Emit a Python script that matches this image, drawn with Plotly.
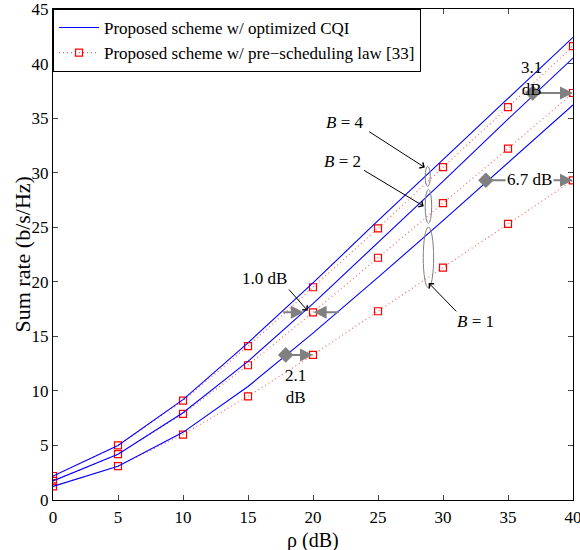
import plotly.graph_objects as go

rho = [0, 5, 10, 15, 20, 25, 30, 35, 40]

# Proposed scheme w/ optimized CQI (blue solid)
opt_B4 = [2.2, 5.0, 9.2, 14.4, 19.9, 25.6, 31.2, 36.8, 42.4]
opt_B2 = [1.75, 4.2, 8.0, 12.7, 18.0, 23.6, 29.2, 34.9, 40.5]
opt_B1 = [1.25, 3.1, 6.2, 10.4, 15.3, 20.4, 25.6, 30.9, 36.2]

# Proposed scheme w/ pre-scheduling law [33] (red dotted, squares)
pre_B4 = [2.2, 5.0, 9.1, 14.1, 19.5, 24.9, 30.5, 36.0, 41.6]
pre_B2 = [1.75, 4.2, 7.9, 12.35, 17.2, 22.2, 27.2, 32.2, 37.3]
pre_B1 = [1.25, 3.1, 6.0, 9.5, 13.3, 17.3, 21.3, 25.3, 29.3]

x_ticks = [0, 5, 10, 15, 20, 25, 30, 35, 40]
y_ticks = [0, 5, 10, 15, 20, 25, 30, 35, 40, 45]

# SNR gaps (dB) annotated at a given rho of the pre-scheduling curves
gap_labels = ["2.1", "6.7", "3.1"]
gap_values = [2.1, 6.7, 3.1]
gap_rho = [20, 40, 40]
gap_level = [pre_B1[4], pre_B1[8], pre_B2[8]]

FONT = "Liberation Serif, Times New Roman, serif"
GRAY = "#808080"

fig = go.Figure()

blue = dict(color="#0000ff", width=1.1)
red_line = dict(color="rgba(255,0,0,0.6)", width=1.2, dash="1px,3px")
red_marker = dict(symbol="square-open", size=7, color="#ff0000", line=dict(width=1.2, color="#ff0000"))

for i, (o, p) in enumerate([(opt_B4, pre_B4), (opt_B2, pre_B2), (opt_B1, pre_B1)]):
    fig.add_trace(go.Scatter(x=rho, y=p, mode="lines+markers", line=red_line, marker=red_marker,
                             name="Proposed scheme w/ pre\u2212scheduling law [33]",
                             showlegend=(i == 0), legendrank=2))
    fig.add_trace(go.Scatter(x=rho, y=o, mode="lines", line=blue,
                             name="Proposed scheme w/ optimized CQI",
                             showlegend=(i == 0), legendrank=1))

# diamonds at gap starts
dx = [r - g for r, g in zip(gap_rho, gap_values)]
fig.add_trace(go.Scatter(x=dx, y=gap_level, mode="markers", showlegend=False,
                         marker=dict(symbol="diamond", size=12, color=GRAY), hoverinfo="skip"))

ann = []
# gap arrows (diamond -> marker)
for s, r, lv in zip(dx, gap_rho, gap_level):
    ann.append(dict(x=r, y=lv, ax=s, ay=lv, xref="x", yref="y", axref="x", ayref="y", text="",
                    showarrow=True, arrowhead=2, arrowsize=1.3, arrowwidth=2, arrowcolor=GRAY,
                    standoff=0))
# 1.0 dB double inward arrows at B=2, rho=20
lv = pre_B2[4]
ann.append(dict(x=19.3, y=lv, ax=17.6, ay=lv, xref="x", yref="y", axref="x", ayref="y", text="",
                showarrow=True, arrowhead=2, arrowsize=1.3, arrowwidth=2, arrowcolor=GRAY))
ann.append(dict(x=20.05, y=lv, ax=22.1, ay=lv, xref="x", yref="y", axref="x", ayref="y", text="",
                showarrow=True, arrowhead=2, arrowsize=1.3, arrowwidth=2, arrowcolor=GRAY))

AF = dict(size=17, family=FONT)
# gap labels
ann.append(dict(x=18.68, y=10.4, text="2.1<br>dB", showarrow=False, font=AF))
ann.append(dict(x=36.8, y=38.6, text="3.1<br>dB", showarrow=False, font=AF))
ann.append(dict(x=36.67, y=29.4, text="6.7 dB", showarrow=False, bgcolor="white", font=AF))
ann.append(dict(x=16.3, y=20.26, text="1.0 dB", showarrow=False, font=AF))

# B labels
ann.append(dict(x=22.44, y=34.58, text="<i>B</i> = 4", showarrow=False, font=AF))
ann.append(dict(x=22.28, y=31.02, text="<i>B</i> = 2", showarrow=False, font=AF))
ann.append(dict(x=32.52, y=16.33, text="<i>B</i> = 1", showarrow=False, font=AF))

# black arrows
for (hx, hy, tx, ty) in [(28.6, 30.47, 24.2, 33.85), (28.52, 26.92, 23.82, 30.29),
                         (28.9, 19.89, 31.13, 17.15), (19.59, 17.34, 18.05, 19.43)]:
    ann.append(dict(x=hx, y=hy, ax=tx, ay=ty, xref="x", yref="y", axref="x", ayref="y", text="",
                    showarrow=True, arrowhead=4, arrowsize=1.3, arrowwidth=1, arrowcolor="black"))

# axis titles
PL, PR, PT, PB = 53, 7, 9, 50
pw, ph = 580 - PL - PR, 550 - PT - PB
ann.append(dict(x=(22 - PL) / pw, y=0.5, xref="paper", yref="paper", text="Sum rate (b/s/Hz)",
                textangle=-90, showarrow=False, font=dict(size=22, family=FONT),
                xanchor="center", yanchor="middle"))
ann.append(dict(x=0.5, y=-(540 - (550 - PB)) / ph, xref="paper", yref="paper", text="\u03c1 (dB)",
                showarrow=False, font=dict(size=20, family=FONT), xanchor="center", yanchor="middle"))

shapes = []
for (x0, x1, y0, y1) in [(28.63, 29.02, 28.74, 30.57), (28.63, 29.13, 25.36, 28.47),
                         (28.48, 29.28, 19.43, 25.0)]:
    shapes.append(dict(type="circle", xref="x", yref="y", x0=x0, x1=x1, y0=y0, y1=y1,
                       line=dict(color=GRAY, width=1)))

fig.update_layout(
    width=580, height=550,
    margin=dict(l=PL, r=PR, t=PT, b=PB, autoexpand=False),
    paper_bgcolor="white", plot_bgcolor="white",
    font=dict(family=FONT, size=17, color="black"),
    annotations=ann, shapes=shapes,
    legend=dict(x=0, y=1, xanchor="left", yanchor="top", bgcolor="white",
                bordercolor="black", borderwidth=1, font=dict(size=17, family=FONT),
                tracegroupgap=0, itemwidth=40),
    xaxis=dict(range=[0, 40], tickvals=x_ticks, ticks="inside", ticklen=5, showline=True,
               linecolor="black", linewidth=1, mirror="ticks", showgrid=False, zeroline=False,
               tickfont=dict(size=17), ticklabeloverflow="allow", automargin=False,
               ticklabelstandoff=2),
    yaxis=dict(range=[0, 45], tickvals=y_ticks, ticks="inside", ticklen=5, showline=True,
               linecolor="black", linewidth=1, mirror="ticks", showgrid=False, zeroline=False,
               tickfont=dict(size=17), ticklabeloverflow="allow", automargin=False),
)

fig.write_html("out.html")
